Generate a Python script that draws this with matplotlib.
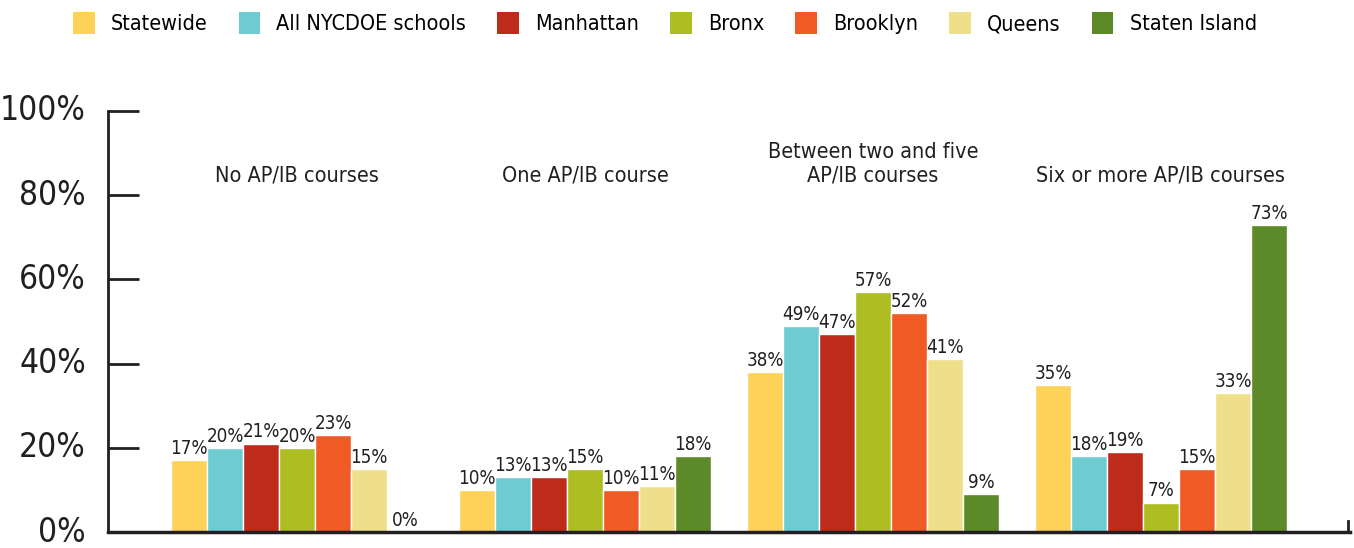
import numpy as np
import matplotlib
matplotlib.use('Agg')
import matplotlib.pyplot as plt
from matplotlib.patches import Patch
from matplotlib import font_manager

categories = ['No AP/IB courses', 'One AP/IB course',
              'Between two and five\nAP/IB courses', 'Six or more AP/IB courses']
series = ['Statewide', 'All NYCDOE schools', 'Manhattan', 'Bronx',
          'Brooklyn', 'Queens', 'Staten Island']
colors = ['#FDD257', '#6ECBD2', '#BE2B1A', '#AEBD22',
          '#F05A24', '#EFDF8A', '#5C8A29']

statewide = [17, 10, 38, 35]
nycdoe = [20, 13, 49, 18]
manhattan = [21, 13, 47, 19]
bronx = [20, 15, 57, 7]
brooklyn = [23, 10, 52, 15]
queens = [15, 11, 41, 33]
staten_island = [0, 18, 9, 73]
values = [statewide, nycdoe, manhattan, bronx, brooklyn, queens, staten_island]

yticks = [0, 20, 40, 60, 80, 100]
ytick_labels = ['0%', '20%', '40%', '60%', '80%', '100%']

dark = '#231F20'


def narrow(size):
    return font_manager.FontProperties(family='DejaVu Sans', stretch='condensed', size=size)


fig = plt.figure(figsize=(13.54, 5.48), dpi=100)
ax = fig.add_axes([108 / 1354, 16 / 548, (1350 - 108) / 1354, (532 - 111) / 548])

centers = np.arange(len(categories)) * 8
n = len(series)
for i, (vals, c) in enumerate(zip(values, colors)):
    xs = centers + (i - (n - 1) / 2)
    ax.bar(xs, vals, width=1.0, color=c, edgecolor='white', linewidth=1.0, zorder=2)
    for x, v in zip(xs, vals):
        ax.text(x, v + 0.5, f'{v}%', ha='center', va='bottom',
                fontproperties=narrow(13.5), color=dark)

for cx, cat in zip(centers, categories):
    ax.text(cx, 82.3, cat, ha='center', va='bottom', fontproperties=narrow(15.5),
            color=dark, linespacing=1.25)

ax.set_xlim(-5.25, 29.25)
ax.set_ylim(0, 100)
ax.set_yticks(yticks)
ax.set_yticklabels(ytick_labels, fontproperties=narrow(24), color=dark, va='center')
ax.set_xticks([])
ax.tick_params(axis='y', direction='in', length=22, width=2, color=dark, pad=16)
for s in ['top', 'right']:
    ax.spines[s].set_visible(False)
ax.spines['left'].set_color(dark)
ax.spines['left'].set_linewidth(2)
ax.spines['bottom'].set_color(dark)
ax.spines['bottom'].set_linewidth(2.5)
ax.axvline(29.2, ymin=0, ymax=0.025, color=dark, linewidth=2, clip_on=False)

handles = [Patch(facecolor=c, edgecolor='none') for c in colors]
fig.legend(handles, series, loc='center', bbox_to_anchor=(0.491, 0.958), ncol=7,
           frameon=False, prop=narrow(15.5),
           handlelength=1.0, handleheight=1.25, handletextpad=0.75, columnspacing=1.45)

fig.savefig('out.png', dpi=100)
